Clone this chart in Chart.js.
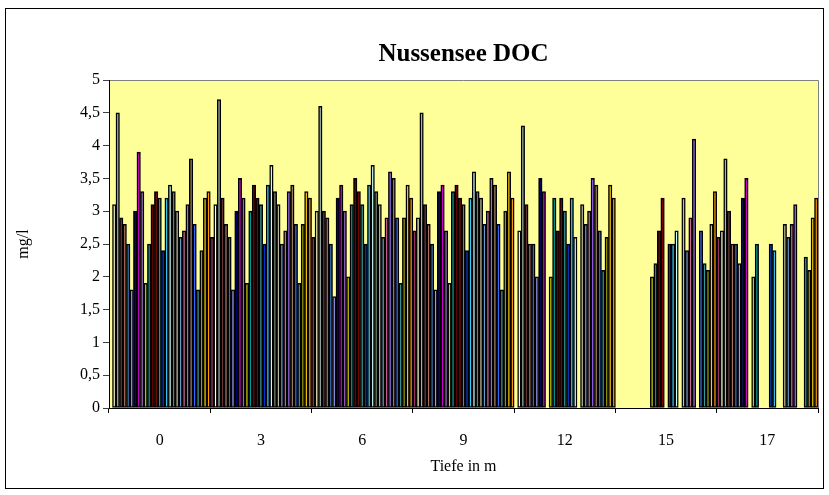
<!DOCTYPE html>
<html>
<head>
<meta charset="utf-8">
<script src="https://cdn.jsdelivr.net/npm/chart.js@4"></script>
<style>
  html, body { margin: 0; padding: 0; background: #fff; }
  #wrap { width: 829px; height: 495px; }
</style>
</head>
<body>
<div id="wrap"><canvas id="docChart" width="829" height="495"></canvas></div>
<script>
// Tiefe (categories)
const depths = ["0", "3", "6", "9", "12", "15", "17"];

// DOC in mg/l, one array per depth, one value per sampling date (29 dates)
const doc_0m  = [null, 3.1, 4.5, 2.9, 2.8, 2.5, 1.8, 3.0, 3.9, 3.3, 1.9, 2.5, 3.1, 3.3, 3.2, 2.4, 3.2, 3.4, 3.3, 3.0, 2.6, 2.7, 3.1, 3.8, 2.8, 1.8, 2.4, 3.2, 3.3];
const doc_3m  = [2.6, 3.1, 4.7, 3.2, 2.8, 2.6, 1.8, 3.0, 3.5, 3.2, 1.9, 3.0, 3.4, 3.2, 3.1, 2.5, 3.4, 3.7, 3.3, 3.1, 2.5, 2.7, 3.3, 3.4, 2.8, 1.9, 2.8, 3.3, 3.2];
const doc_6m  = [2.6, 3.0, 4.6, 3.0, 2.9, 2.5, 1.7, 3.2, 3.4, 3.0, 2.0, 3.1, 3.5, 3.3, 3.1, 2.5, 3.4, 3.7, 3.3, 3.1, 2.6, 2.9, 3.6, 3.5, 2.9, 1.9, 2.9, 3.4, 3.2];
const doc_9m  = [2.7, 2.9, 4.5, 3.1, 2.8, 2.5, 1.8, 3.3, 3.4, 2.7, 1.9, 3.3, 3.4, 3.2, 3.1, 2.4, 3.2, 3.6, 3.3, 3.2, 2.8, 3.0, 3.5, 3.4, 2.8, 1.8, 3.0, 3.6, 3.2];
const doc_12m = [null, 2.7, 4.3, 3.1, 2.5, 2.5, 2.0, 3.5, 3.3, null, 2.0, 3.2, 2.7, 3.2, 3.0, 2.5, 3.2, 2.6, null, 3.1, 2.8, 3.0, 3.5, 3.4, 2.7, 2.1, 2.6, 3.4, 3.2];
const doc_15m = [null, null, null, null, null, null, null, null, null, null, 2.0, 2.2, 2.7, 3.2, null, 2.5, 2.5, 2.7, null, 3.2, 2.4, 2.9, 4.1, null, 2.7, 2.2, 2.1, 2.8, 3.3];
const doc_17m = [2.6, 2.7, 3.8, 3.0, 2.5, 2.5, 2.2, 3.2, 3.5, null, 2.0, 2.5, null, null, null, 2.5, 2.4, null, null, 2.8, 2.6, 2.8, 3.1, null, null, 2.3, 2.1, 2.9, 3.2];

const byDepth = [doc_0m, doc_3m, doc_6m, doc_9m, doc_12m, doc_15m, doc_17m];

// one fill colour per sampling date
const seriesColors = [
    "#993366", "#FFFFCC", "#A0B4B4", "#663333", "#B07060", "#2F6FBF", "#9999FF", "#000066",
    "#CC00CC", "#9966CC", "#CCCC00", "#009999", "#660000", "#800000", "#339999", "#0033CC",
    "#33CCFF", "#CCFFFF", "#708070", "#C0C0A0", "#6699CC", "#CC6699", "#9966FF", "#A08060",
    "#3366FF", "#339999", "#999900", "#FFCC00", "#FF9900"
];

// datasets: one per sampling date, values taken across the depths
const datasets = seriesColors.map((color, i) => ({
    label: "Serie " + (i + 1),
    data: byDepth.map(d => d[i]),
    backgroundColor: color,
    borderColor: "#000",
    borderWidth: 1.5,
    borderSkipped: false,
    categoryPercentage: 1.0,
    barPercentage: 1.0
}));

// yellow plot area with grey top/right edge, outer frame
const chartFrame = {
    id: "chartFrame",
    beforeDraw(chart) {
        const { ctx, chartArea: a } = chart;
        ctx.save();
        ctx.fillStyle = "#fff";
        ctx.fillRect(0, 0, chart.width, chart.height);
        ctx.fillStyle = "#FFFF99";
        ctx.fillRect(a.left, a.top, a.right - a.left, a.bottom - a.top);
        ctx.strokeStyle = "#808080";
        ctx.lineWidth = 1;
        ctx.beginPath();
        ctx.moveTo(a.left, a.top + 0.5);
        ctx.lineTo(a.right + 0.5, a.top + 0.5);
        ctx.lineTo(a.right + 0.5, a.bottom);
        ctx.stroke();
        ctx.strokeStyle = "#000";
        ctx.strokeRect(5.5, 8.5, 818, 480);
        ctx.restore();
    }
};

Chart.defaults.font.family = "'Liberation Serif', 'Times New Roman', serif";
Chart.defaults.font.size = 16;
Chart.defaults.color = "#000";

new Chart(document.getElementById("docChart"), {
    type: "bar",
    data: { labels: depths, datasets },
    plugins: [chartFrame],
    options: {
        responsive: false,
        animation: false,
        layout: { padding: { left: 0, right: 11, top: 0, bottom: 17 } },
        plugins: {
            legend: { display: false },
            tooltip: { enabled: false },
            title: {
                display: true,
                text: "Nussensee DOC",
                fullSize: false,
                font: { size: 25, weight: "bold" },
                color: "#000",
                padding: { top: 40, bottom: 10 }
            }
        },
        scales: {
            x: {
                afterFit: s => { s.height = 70; },
                grid: { drawOnChartArea: false, drawTicks: true, tickLength: 5, color: "#000" },
                border: { display: true, color: "#000", width: 1 },
                ticks: { padding: 18, maxRotation: 0, autoSkip: false },
                title: { display: true, text: "Tiefe in m", padding: { top: 0, bottom: 2 } }
            },
            y: {
                min: 0,
                max: 5,
                afterFit: s => { s.width = 109; },
                grid: { drawOnChartArea: false, drawTicks: true, tickLength: 6, color: "#404040" },
                border: { display: true, color: "#000", width: 1 },
                ticks: {
                    stepSize: 0.5,
                    padding: 3,
                    callback: v => String(v).replace(".", ",")
                },
                title: { display: true, text: "mg/l", padding: { top: 14, bottom: 0 } }
            }
        }
    }
});
</script>
</body>
</html>
